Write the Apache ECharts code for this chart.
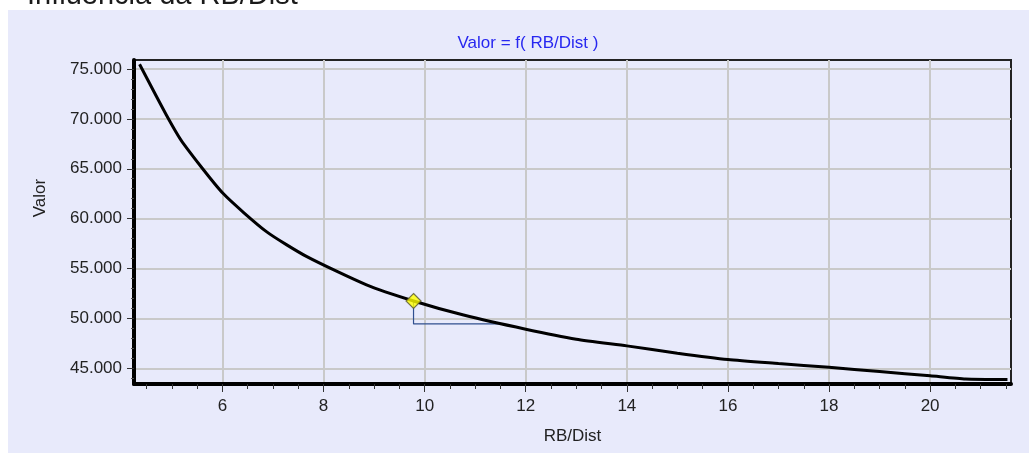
<!DOCTYPE html>
<html><head><meta charset="utf-8">
<script src="https://cdn.jsdelivr.net/npm/echarts@6/dist/echarts.min.js"></script>
<style>html,body{margin:0;padding:0;background:#fff}#c{width:1029px;height:453px}</style>
</head><body><div id="c"></div>
<script>
const pageTitle = 'Influência da RB/Dist';
const chartTitle = 'Valor = f( RB/Dist )';
const xName = 'RB/Dist';
const yName = 'Valor';
const curveX = [4.36, 4.89, 5.21, 6.01, 6.87, 7.67, 8.85, 9.78, 10.77, 12.0, 13.0, 14.0, 15.0, 16.0, 17.0, 18.0, 19.0, 20.0, 20.7, 21.53];
const curveY = [75470, 70390, 67650, 62540, 58700, 56190, 53360, 51750, 50340, 48920, 47920, 47250, 46520, 45880, 45480, 45100, 44680, 44250, 43930, 43870];
const markerX = [9.78];
const markerY = [51750];
const stepX = [9.78, 9.78, 11.48];
const stepY = [51750, 49450, 49450];
const xTicks = [6, 8, 10, 12, 14, 16, 18, 20];
const xMinorTicks = [4.5, 5, 5.5, 6.5, 7, 7.5, 8.5, 9, 9.5, 10.5, 11, 11.5, 12.5, 13, 13.5, 14.5, 15, 15.5, 16.5, 17, 17.5, 18.5, 19, 19.5, 20.5, 21, 21.5];
const yTicks = [45000, 50000, 55000, 60000, 65000, 70000, 75000];
const yMinorTicks = [44000, 46000, 47000, 48000, 49000, 51000, 52000, 53000, 54000, 56000, 57000, 58000, 59000, 61000, 62000, 63000, 64000, 66000, 67000, 68000, 69000, 71000, 72000, 73000, 74000];
const xMin = 4.25, xMax = 21.6, yMin = 43430, yMax = 75900;

const FONT = "'Liberation Sans', Arial, sans-serif";
const fmtY = v => String(Math.round(v)).replace(/\B(?=(\d{3})+(?!\d))/g, '.');
const zip = (a, b) => a.map((v, i) => [v, b[i]]);

const chart = echarts.init(document.getElementById('c'), null, {renderer: 'canvas'});
chart.setOption({
  animation: false,
  backgroundColor: '#ffffff',
  graphic: [
    {type: 'rect', z: -10, silent: true, shape: {x: 8, y: 10, width: 1021, height: 443}, style: {fill: '#E8EAFB'}},
    {type: 'text', silent: true, style: {text: pageTitle, x: 27, y: -4, fill: '#1a1a1a', font: '29px ' + FONT, verticalAlign: 'middle', align: 'left'}},
    {type: 'text', silent: true, x: 40, y: 198, rotation: Math.PI / 2, style: {text: yName, x: 0, y: 0, fill: '#222', font: '17px ' + FONT, verticalAlign: 'middle', align: 'center'}}
  ],
  title: {
    text: chartTitle, left: 523, top: 30, textAlign: 'center',
    textStyle: {color: '#2727F0', fontSize: 17, fontWeight: 'normal', fontFamily: FONT}
  },
  grid: {left: 134, right: 18, top: 60, bottom: 69, show: true, borderColor: '#222', borderWidth: 2, backgroundColor: 'transparent'},
  xAxis: [
    {
      type: 'value', min: xMin, max: xMax, position: 'bottom',
      name: xName, nameLocation: 'middle', nameGap: 44,
      nameTextStyle: {color: '#222', fontSize: 17, fontFamily: FONT},
      axisLine: {show: true, onZero: false, lineStyle: {color: '#000', width: 4}},
      axisTick: {show: true, length: 8, customValues: xTicks, lineStyle: {color: '#333', width: 1}},
      axisLabel: {show: true, customValues: xTicks, margin: 14, color: '#222', fontSize: 17, fontFamily: FONT},
      splitLine: {show: true, lineStyle: {color: '#C9C9C9', width: 2}}
    },
    {
      type: 'value', min: xMin, max: xMax, position: 'bottom', offset: 0,
      axisLine: {show: false},
      axisTick: {show: true, length: 5, customValues: xMinorTicks, lineStyle: {color: '#333', width: 1}},
      axisLabel: {show: false},
      splitLine: {show: false}
    }
  ],
  yAxis: [
    {
      type: 'value', min: yMin, max: yMax, position: 'left',
      axisLine: {show: true, onZero: false, lineStyle: {color: '#000', width: 4}},
      axisTick: {show: true, length: 7, customValues: yTicks, lineStyle: {color: '#333', width: 1}},
      axisLabel: {show: true, customValues: yTicks, margin: 12, color: '#222', fontSize: 17, fontFamily: FONT, formatter: fmtY},
      splitLine: {show: true, lineStyle: {color: '#C9C9C9', width: 2}}
    },
    {
      type: 'value', min: yMin, max: yMax, position: 'left', offset: 0,
      axisLine: {show: false},
      axisTick: {show: true, length: 3, customValues: yMinorTicks, lineStyle: {color: '#555', width: 1}},
      axisLabel: {show: false},
      splitLine: {show: false}
    }
  ],
  series: [
    {
      type: 'line', data: zip(stepX, stepY), symbol: 'none', silent: true, z: 2,
      lineStyle: {color: '#2F4F8F', width: 1.2}
    },
    {
      type: 'line', data: zip(curveX, curveY), symbol: 'none', silent: true, z: 3, smooth: 0.2,
      lineStyle: {color: '#000', width: 3}
    },
    {
      type: 'scatter', data: zip(markerX, markerY), symbol: 'diamond', symbolSize: 15, silent: true, z: 5,
      itemStyle: {color: '#FFFF00', borderColor: '#555530', borderWidth: 1.2}
    }
  ]
});
</script></body></html>
